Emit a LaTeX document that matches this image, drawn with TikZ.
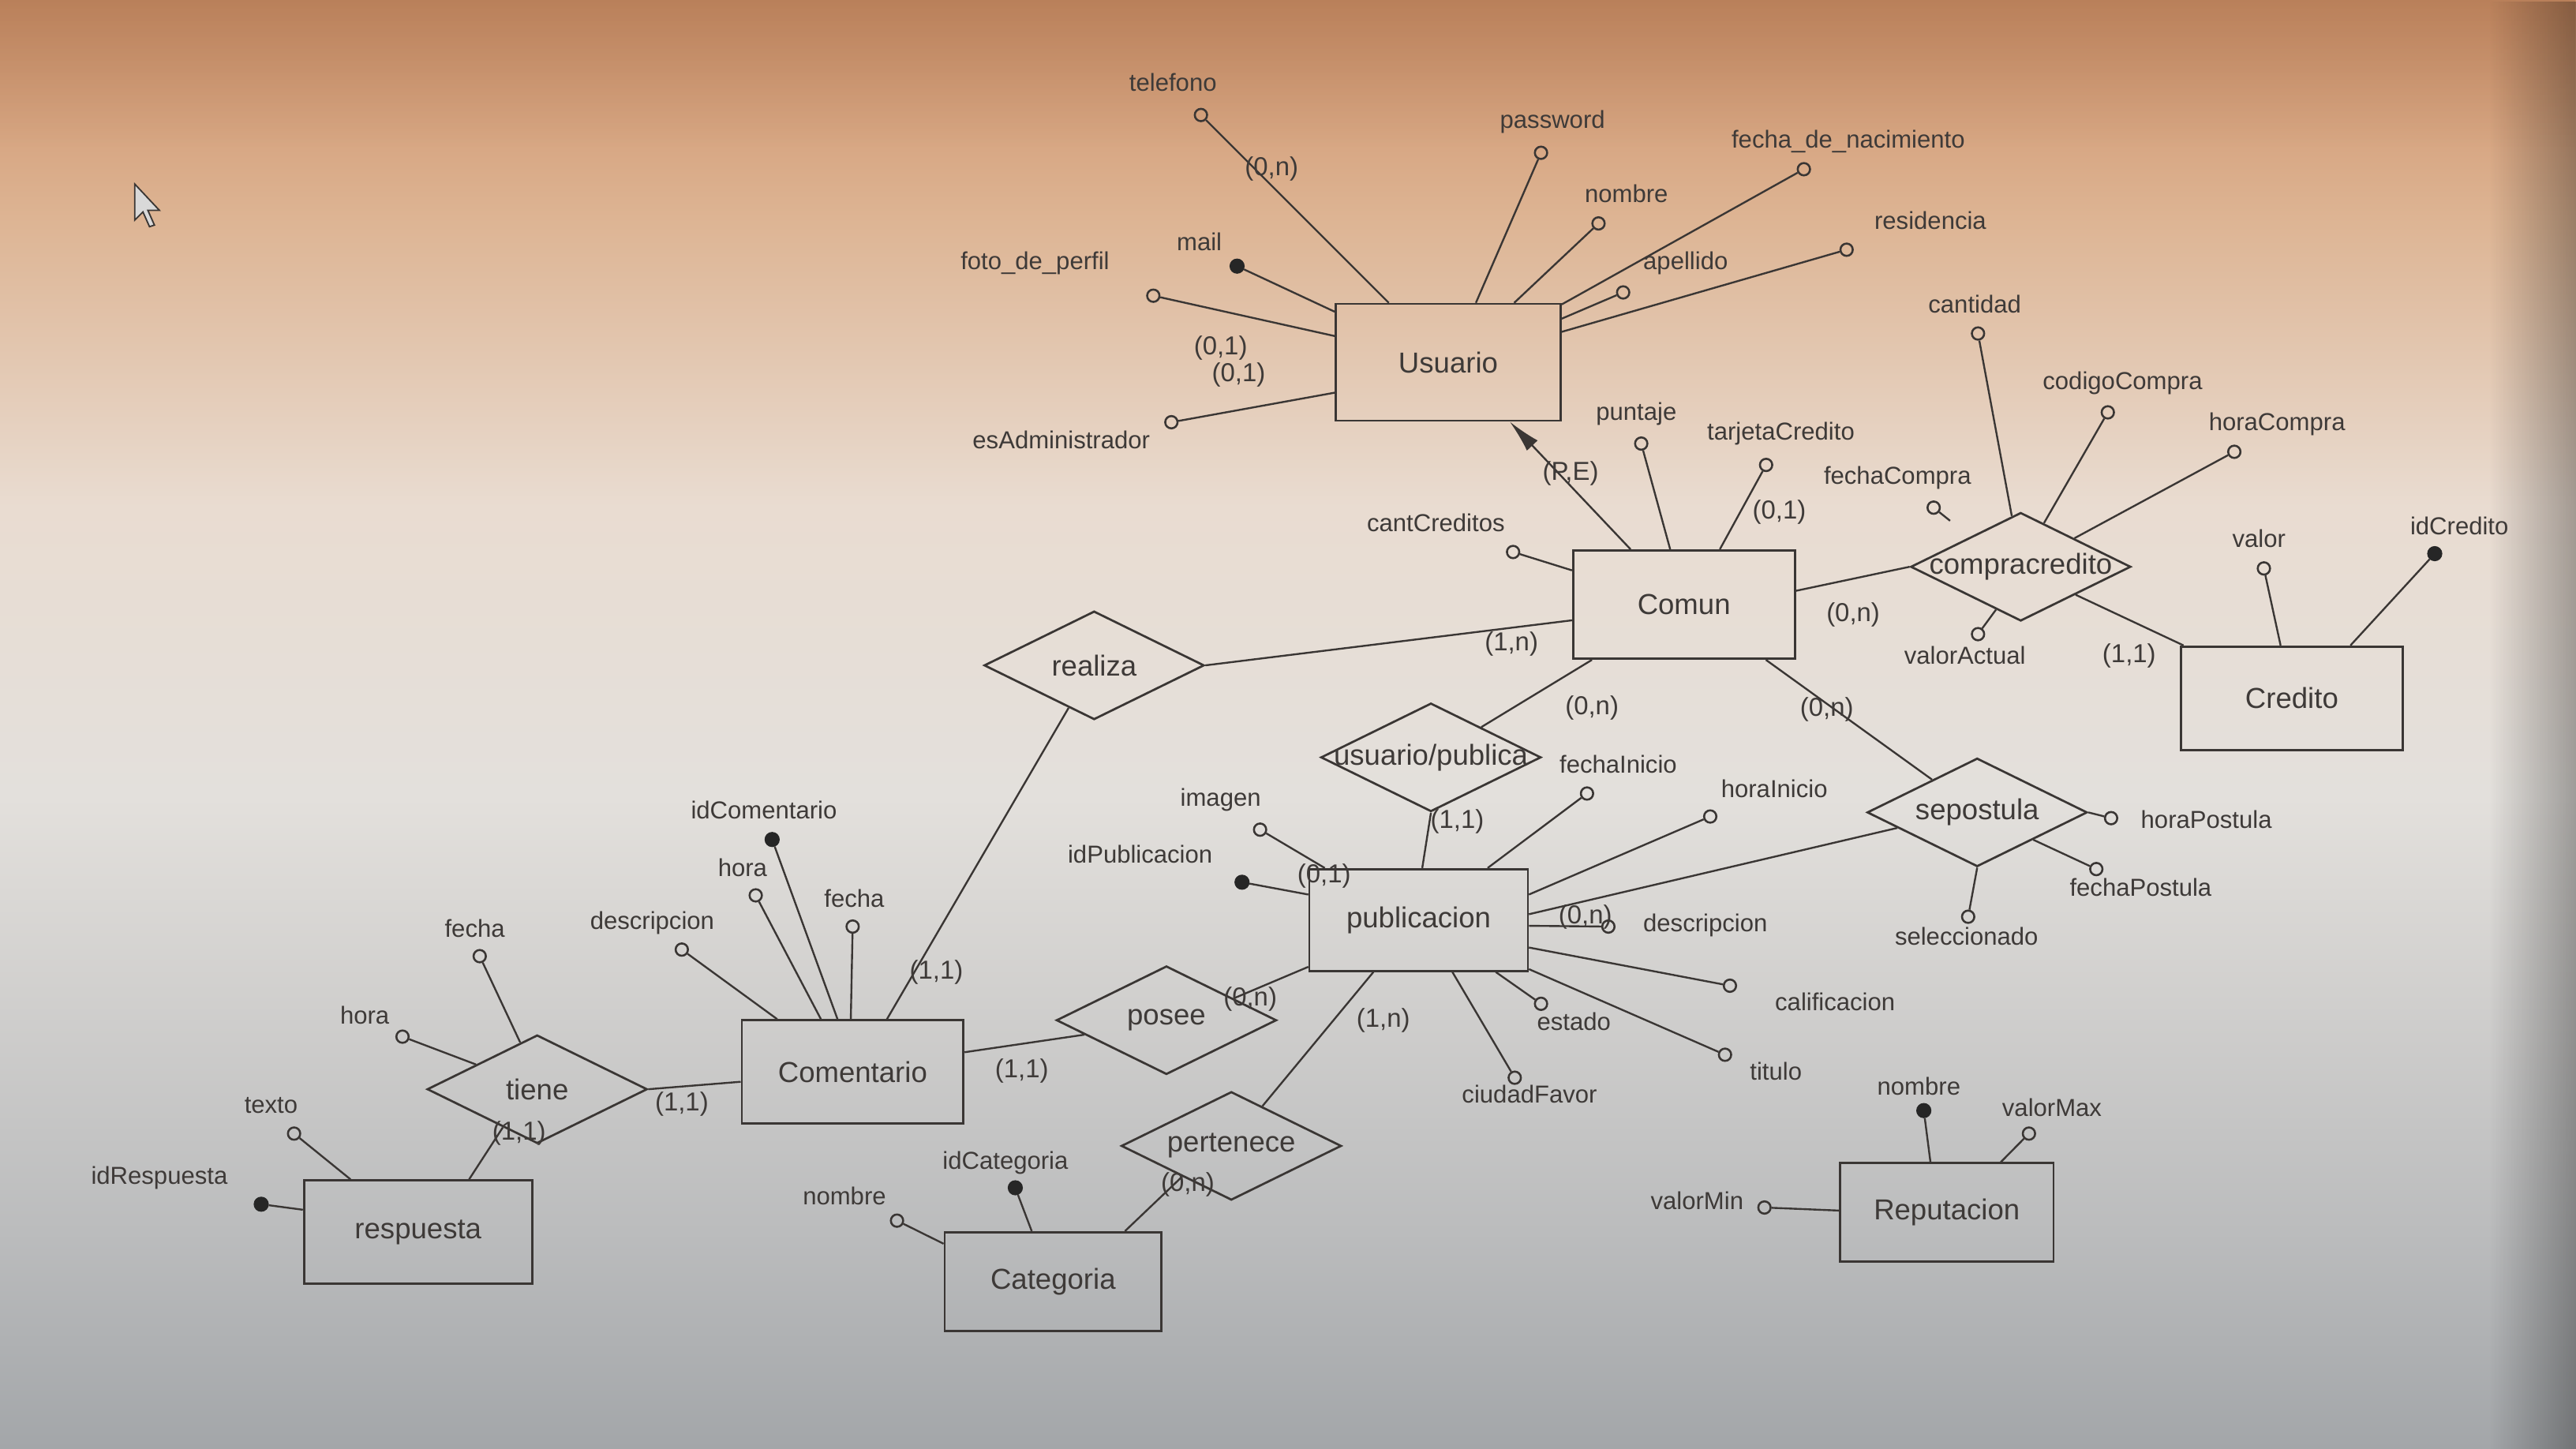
\documentclass[tikz,border=0pt]{standalone}
\usepackage{fontspec}
\setmainfont{Liberation Sans}
\usetikzlibrary{shapes.geometric,arrows.meta,fadings}
\definecolor{ln}{HTML}{3A3634}
\definecolor{tx}{HTML}{3E3A38}
\definecolor{bg0}{HTML}{A3A6A9}
\definecolor{bg1}{HTML}{BBBCBD}
\definecolor{bg2}{HTML}{E3E0DC}
\definecolor{bg3}{HTML}{E9DCD1}
\definecolor{bg4}{HTML}{DDB493}
\definecolor{bg5}{HTML}{CD8E66}
\pgfdeclareverticalshading{photobg}{100bp}{color(0bp)=(bg0); color(25bp)=(bg0); color(32.5bp)=(bg1); color(47.5bp)=(bg2); color(57.5bp)=(bg3); color(67.5bp)=(bg4); color(75bp)=(bg5); color(100bp)=(bg5)}
\begin{document}
\begin{tikzpicture}[x=0.02cm,y=-0.02cm,
 ent/.style={draw=ln,line width=0.75pt,rectangle,minimum width=2.7cm,minimum height=1.26cm,inner sep=0pt,font=\fontsize{10}{12}\selectfont,text=tx},
 rel/.style={draw=ln,line width=0.75pt,diamond,minimum width=2.68cm,minimum height=1.32cm,inner sep=0pt},
 rname/.style={font=\fontsize{10}{12}\selectfont,text=tx,inner sep=0pt},
 att/.style={circle,draw=ln,line width=0.7pt,minimum size=0.15cm,inner sep=0pt},
 keyatt/.style={circle,draw=black!85,fill=black!85,minimum size=0.17cm,inner sep=0pt},
 lab/.style={font=\fontsize{8.5}{10}\selectfont,text=tx,inner sep=0pt},
 card/.style={font=\fontsize{9}{10}\selectfont,text=tx,inner sep=0pt},
 con/.style={draw=ln,line width=0.65pt},
]
% background (photo of a screen)
\useasboundingbox (0,0) rectangle (1568,882);
\shade[shading=photobg] (0,0) rectangle (1568,882);
\fill[black,path fading=west,opacity=0.3] (1515,0) rectangle (1568,882);
\fill[black!60!brown,path fading=south,opacity=0.15] (0,0) rectangle (1568,90);
% mouse cursor
\draw[ln,fill=black!15,line width=0.5pt] (82,112) -- (82,134) -- (87,129) -- (91,138) -- (94,137) -- (90,128) -- (97,128) -- cycle;

% entities
\node[ent,minimum width=2.74cm,minimum height=1.42cm] (usu) at (881.5,220.5) {Usuario};
\node[ent,minimum height=1.32cm] (com) at (1025,368) {Comun};
\node[ent] (cre) at (1395,425) {Credito};
\node[ent,minimum width=2.66cm,minimum height=1.24cm] (pub) at (863.5,560) {publicacion};
\node[ent] (cmt) at (519,652.5) {Comentario};
\node[ent,minimum width=2.78cm] (res) at (254.5,750) {respuesta};
\node[ent,minimum width=2.64cm,minimum height=1.2cm] (cat) at (641,780) {Categoria};
\node[ent,minimum width=2.6cm,minimum height=1.2cm] (rep) at (1185,738) {Reputacion};

% relationships
\node[rel,label={[rname,name=l-cc]center:compracredito}] (cc) at (1230,345) {};
\node[rel,label={[rname,name=l-rea]center:realiza}] (rea) at (666,405) {};
\node[rel,label={[rname,name=l-upu]center:usuario/publica}] (upu) at (871,461) {};
\node[rel,label={[rname,name=l-sep]center:sepostula}] (sep) at (1203.5,494.5) {};
\node[rel,label={[rname,name=l-pos]center:posee}] (pos) at (710,621) {};
\node[rel,label={[rname,name=l-tie]center:tiene}] (tie) at (327,663) {};
\node[rel,label={[rname,name=l-per]center:pertenece}] (per) at (749.5,697.5) {};

% Usuario attributes
\node[att] (a-tel) at (731,70) {};   \node[lab] (l-tel) at (714,50) {telefono};
\node[att] (a-pwd) at (938,93) {};   \node[lab] (l-pwd) at (945,74) {password};
\node[att] (a-fna) at (1098,103) {}; \node[lab] (l-fna) at (1125,86) {fecha\_de\_nacimiento};
\node[att] (a-nom) at (973,136) {};  \node[lab] (l-nom) at (990,118) {nombre};
\node[att] (a-res) at (1124,152) {}; \node[lab] (l-res) at (1175,134) {residencia};
\node[att] (a-ape) at (988,178) {};  \node[lab] (l-ape) at (1026,160) {apellido};
\node[keyatt] (a-mai) at (753,162) {}; \node[lab] (l-mai) at (730,147) {mail};
\node[att] (a-fot) at (702,180) {};  \node[lab] (l-fot) at (630,160) {foto\_de\_perfil};
\node[att] (a-adm) at (713,257) {};  \node[lab] (l-adm) at (646,268) {esAdministrador};
\draw[con] (a-tel) -- (usu.135);
\draw[con] (a-pwd) -- (usu.65);
\draw[con] (a-nom) -- (usu.42);
\draw[con] (a-fna) -- (usu.27);
\draw[con] (a-ape) -- (usu.21);
\draw[con] (a-res) -- (usu.15);
\draw[con] (a-mai) -- (usu.156);
\draw[con] (a-fot) -- (usu.167);
\draw[con] (a-adm) -- (usu.-165);
\node[card] (c-tel) at (774,103) {(0,n)};
\node[card] (c-fot) at (743,212) {(0,1)};
\node[card] (c-adm) at (754,228) {(0,1)};

% generalisation Comun -> Usuario
\draw[con,-{Latex[length=0.4cm,width=0.18cm]}] (com.134) -- (usu.-44);
\node[card] (c-isa) at (956,288) {(P,E)};

% Comun attributes
\node[att] (a-pun) at (999,270) {};  \node[lab] (l-pun) at (996,252) {puntaje};
\node[att] (a-tar) at (1075,283) {}; \node[lab] (l-tar) at (1084,264) {tarjetaCredito};
\node[att] (a-cac) at (921,336) {};  \node[lab] (l-cac) at (874,318) {cantCreditos};
\draw[con] (a-pun) -- (com.104);
\draw[con] (a-tar) -- (com.57);
\draw[con] (a-cac) -- (com.163);
\node[card] (c-tar) at (1083,312) {(0,1)};

% compracredito
\node[att] (a-can) at (1204,203) {}; \node[lab] (l-can) at (1202,185) {cantidad};
\node[att] (a-cod) at (1283,251) {}; \node[lab] (l-cod) at (1292,233) {codigoCompra};
\node[att] (a-hco) at (1360,275) {}; \node[lab] (l-hco) at (1386,258) {horaCompra};
\node[att] (a-fco) at (1177,309) {}; \node[lab] (l-fco) at (1155,291) {fechaCompra};
\coordinate (e-fco) at (1187,317);
\node[att] (a-vac) at (1204,386) {}; \node[lab] (l-vac) at (1196,399) {valorActual};
\draw[con] (a-can) -- (cc.100);
\draw[con] (a-cod) -- (cc.62);
\draw[con] (a-hco) -- (cc.28);
\draw[con] (a-fco) -- (e-fco);
\draw[con] (a-vac) -- (cc.-120);
\draw[con] (com.7) -- (cc.west);
\node[card] (c-cc1) at (1128,374) {(0,n)};
\draw[con] (cc.-27) -- (cre.154);
\node[card] (c-cc2) at (1296,399) {(1,1)};

% Credito attributes
\node[att] (a-val) at (1378,346) {};    \node[lab] (l-val) at (1375,328) {valor};
\node[keyatt] (a-idc) at (1482,337) {}; \node[lab] (l-idc) at (1497,320) {idCredito};
\draw[con] (a-val) -- (cre.102);
\draw[con] (a-idc) -- (cre.42);

% Comun relationships
\draw[con] (com.-172) -- (rea.east);
\node[card] (c-rea1) at (920,392) {(1,n)};
\draw[con] (com.-149) -- (upu.31);
\node[card] (c-upu1) at (969,431) {(0,n)};
\draw[con] (com.-34) -- (sep.144);
\node[card] (c-sep1) at (1112,432) {(0,n)};
\draw[con] (rea.-121) -- (cmt.57);
\node[card] (c-rea2) at (570,592) {(1,1)};
\draw[con] (upu.south) -- (pub.86);
\node[card] (c-upu2) at (887,500) {(1,1)};

% publicacion attributes
\node[att] (a-ima) at (767,505) {};    \node[lab] (l-ima) at (743,487) {imagen};
\node[keyatt] (a-idp) at (756,537) {}; \node[lab] (l-idp) at (694,520) {idPublicacion};
\node[att] (a-fin) at (966,483) {};    \node[lab] (l-fin) at (985,465) {fechaInicio};
\node[att] (a-hin) at (1041,497) {};   \node[lab] (l-hin) at (1080,480) {horaInicio};
\node[att] (a-des) at (979,564) {};    \node[lab] (l-des) at (1038,563) {descripcion};
\node[att] (a-cal) at (1053,600) {};   \node[lab] (l-cal) at (1117,610) {calificacion};
\node[att] (a-tit) at (1050,642) {};   \node[lab] (l-tit) at (1081,652) {titulo};
\node[att] (a-est) at (938,611) {};    \node[lab] (l-est) at (958,622) {estado};
\node[att] (a-ciu) at (922,656) {};    \node[lab] (l-ciu) at (931,666) {ciudadFavor};
\draw[con] (a-ima) -- (pub.151);
\draw[con] (a-idp) -- (pub.167);
\draw[con] (a-fin) -- (pub.37);
\draw[con] (a-hin) -- (pub.13);
\draw[con] (a-des) -- (pub.-3);
\draw[con] (a-cal) -- (pub.-14);
\draw[con] (a-tit) -- (pub.-24);
\draw[con] (a-est) -- (pub.-34);
\draw[con] (a-ciu) -- (pub.-57);
\node[card] (c-ima) at (806,533) {(0,1)};
\node[card] (c-des) at (965,558) {(0,n)};
\draw[con] (pub.3) -- (sep.-169);
\draw[con] (pub.-131) -- (per.52);
\node[card] (c-per1) at (842,621) {(1,n)};
\draw[con] (pub.-157) -- (pos.18);
\node[card] (c-pos1) at (761,608) {(0,n)};

% sepostula attributes
\node[att] (a-hpo) at (1285,498) {}; \node[lab] (l-hpo) at (1343,499) {horaPostula};
\node[att] (a-fpo) at (1276,529) {}; \node[lab] (l-fpo) at (1303,540) {fechaPostula};
\node[att] (a-sel) at (1198,558) {}; \node[lab] (l-sel) at (1197,570) {seleccionado};
\draw[con] (a-hpo) -- (sep.east);
\draw[con] (a-fpo) -- (sep.-26);
\draw[con] (a-sel) -- (sep.south);

% posee -> Comentario
\draw[con] (pos.-170) -- (cmt.10);
\node[card] (c-pos2) at (622,652) {(1,1)};

% Comentario attributes
\node[keyatt] (a-idm) at (470,511) {}; \node[lab] (l-idm) at (465,493) {idComentario};
\node[att] (a-hor) at (460,545) {};    \node[lab] (l-hor) at (452,528) {hora};
\node[att] (a-fec) at (519,564) {};    \node[lab] (l-fec) at (520,547) {fecha};
\node[att] (a-dsc) at (415,578) {};    \node[lab] (l-dsc) at (397,562) {descripcion};
\draw[con] (a-idm) -- (cmt.106);
\draw[con] (a-hor) -- (cmt.121);
\draw[con] (a-fec) -- (cmt.92);
\draw[con] (a-dsc) -- (cmt.145);
\draw[con] (tie.east) -- (cmt.-175);
\node[card] (c-tie1) at (415,672) {(1,1)};

% tiene attributes
\node[att] (a-tfe) at (292,582) {}; \node[lab] (l-tfe) at (289,565) {fecha};
\node[att] (a-tho) at (245,631) {}; \node[lab] (l-tho) at (222,618) {hora};
\draw[con] (a-tfe) -- (tie.110);
\draw[con] (a-tho) -- (tie.158);
\draw[con] (tie.-132) -- (res.46);
\node[card] (c-tie2) at (316,690) {(1,1)};

% respuesta attributes
\node[att] (a-tex) at (179,690) {};    \node[lab] (l-tex) at (165,673) {texto};
\node[keyatt] (a-idr) at (159,733) {}; \node[lab] (l-idr) at (97,717) {idRespuesta};
\draw[con] (a-tex) -- (res.142);
\draw[con] (a-idr) -- (res.169);

% pertenece -> Categoria
\draw[con] (per.-148) -- (cat.35);
\node[card] (c-per2) at (723,721) {(0,n)};
\node[keyatt] (a-idg) at (618,723) {}; \node[lab] (l-idg) at (612,708) {idCategoria};
\node[att] (a-cno) at (546,743) {};    \node[lab] (l-cno) at (514,728) {nombre};
\draw[con] (a-idg) -- (cat.113);
\draw[con] (a-cno) -- (cat.161);

% Reputacion attributes
\node[keyatt] (a-rno) at (1171,676) {}; \node[lab] (l-rno) at (1168,661) {nombre};
\node[att] (a-rmx) at (1235,690) {};    \node[lab] (l-rmx) at (1249,674) {valorMax};
\node[att] (a-rmn) at (1074,735) {};    \node[lab] (l-rmn) at (1033,731) {valorMin};
\draw[con] (a-rno) -- (rep.108);
\draw[con] (a-rmx) -- (rep.43);
\draw[con] (a-rmn) -- (rep.179);
\end{tikzpicture}
\end{document}
